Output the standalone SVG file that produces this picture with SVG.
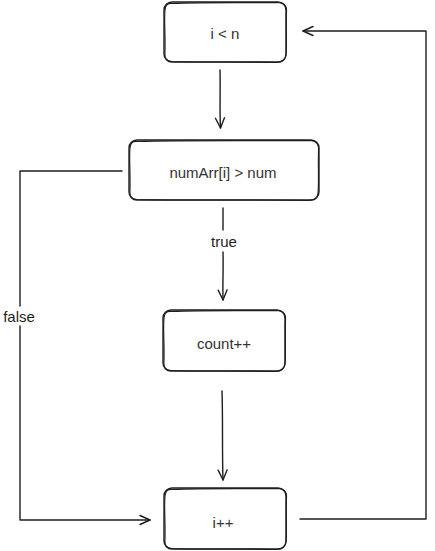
<svg xmlns="http://www.w3.org/2000/svg" width="435" height="551" viewBox="0 0 435 551">
  <defs>
    <style>
      .box { fill: #ffffff; stroke: #1e1e1e; stroke-width: 1.4; stroke-linejoin: round; }
      .box2 { fill: none; stroke: #1e1e1e; stroke-width: 1.1; stroke-linejoin: round; }
      .label { font-family: "Liberation Sans", Arial, sans-serif; font-size: 15px; fill: #333333; text-anchor: middle; dominant-baseline: central; }
      .edge-label { font-family: "Liberation Sans", Arial, sans-serif; font-size: 15px; fill: #1e1e1e; text-anchor: middle; dominant-baseline: central; }
      .wire { fill: none; stroke: #1e1e1e; stroke-width: 1.4; stroke-linecap: round; stroke-linejoin: round; }
    </style>
    <marker id="head" viewBox="0 0 12 12" refX="11" refY="6" markerWidth="12" markerHeight="12" markerUnits="userSpaceOnUse" orient="auto">
      <path d="M1,1.5 L11,6 L1,10.5" fill="none" stroke="#1e1e1e" stroke-width="1.4" stroke-linejoin="round" stroke-linecap="round"/>
    </marker>
  </defs>

  <!-- loop condition -->
  <g id="node-cond">
    <rect class="box" x="164" y="2" width="122" height="60" rx="8"/>
    <path class="box2" d="M172,3.5 C210,2 250,3 279,2.5 C285,3 287,7 286.5,12 C286,30 287,45 286,55 C285.5,61 282,62.5 276,62.5 C240,61.5 200,62.5 172,61.5 C166,61 164.5,58 165,52 C165.5,35 164,20 165,10 C165.5,5 168,3 172,3.5 Z"/>
    <text class="label" x="225" y="33">i &lt; n</text>
  </g>

  <!-- comparison -->
  <g id="node-compare">
    <rect class="box" x="129" y="140" width="190" height="60" rx="8"/>
    <path class="box2" d="M137,141.5 C190,140 260,141 311,140.5 C317,141 319,145 318.5,150 C318,168 319,183 318,193 C317.5,199 314,200.5 308,200.5 C250,199.5 180,200.5 137,199.5 C131,199 129.5,196 130,190 C130.5,173 129,158 130,148 C130.5,143 133,141 137,141.5 Z"/>
    <text class="label" x="223" y="172">numArr[i] &gt; num</text>
  </g>

  <!-- counter increment -->
  <g id="node-count">
    <rect class="box" x="163" y="310" width="122" height="61" rx="8"/>
    <path class="box2" d="M171,311.5 C210,310 250,311 278,310.5 C284,311 286,315 285.5,320 C285,338 286,354 285,364 C284.5,370 281,371.5 275,371.5 C240,370.5 200,371.5 171,370.5 C165,370 163.5,367 164,361 C164.5,344 163,328 164,318 C164.5,313 167,311 171,311.5 Z"/>
    <text class="label" x="224" y="343">count++</text>
  </g>

  <!-- index increment -->
  <g id="node-inc">
    <rect class="box" x="164" y="488" width="122" height="61" rx="8"/>
    <path class="box2" d="M172,489.5 C210,488 250,489 279,488.5 C285,489 287,493 286.5,498 C286,516 287,532 286,542 C285.5,548 282,549.5 276,549.5 C240,548.5 200,549.5 172,548.5 C166,548 164.5,545 165,539 C165.5,522 164,506 165,496 C165.5,491 168,489 172,489.5 Z"/>
    <text class="label" x="223" y="522">i++</text>
  </g>

  <!-- connectors -->
  <g id="connectors">
    <path class="wire" d="M220,70 C220.5,90 219.5,110 220.5,128" marker-end="url(#head)"/>
    <path class="wire" d="M223,208 L223,230"/>
    <path class="wire" d="M223,252 C223.5,270 222.5,285 223,300" marker-end="url(#head)"/>
    <text class="edge-label" x="224" y="241">true</text>
    <path class="wire" d="M222,391 C223,420 222,450 223,480" marker-end="url(#head)"/>
    <path class="wire" d="M122,171 L20,171 L20,306"/>
    <path class="wire" d="M20,326 L20,520 L150,520" marker-end="url(#head)"/>
    <text class="edge-label" x="19" y="316">false</text>
    <path class="wire" d="M300,519 L426,519 L426,31 L303,31" marker-end="url(#head)"/>
  </g>
</svg>
